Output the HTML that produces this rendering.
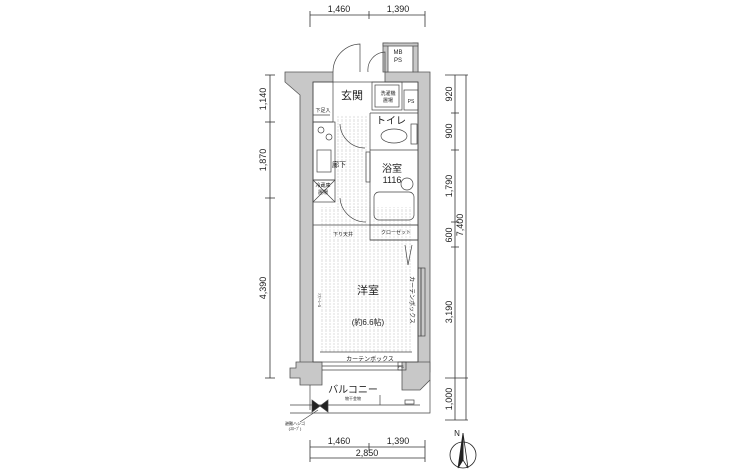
<!DOCTYPE html>
<html><head><meta charset="utf-8"><style>
html,body{margin:0;padding:0;background:#fff;}
svg{display:block;font-family:"Liberation Sans","Noto Sans CJK JP",sans-serif;}
</style></head><body>
<svg width="730" height="470" viewBox="0 0 730 470" xmlns="http://www.w3.org/2000/svg">
<defs>
<pattern id="hatch" width="4" height="10" patternUnits="userSpaceOnUse">
<line x1="2" y1="0" x2="2" y2="10" stroke="#bbb" stroke-width="0.5" stroke-dasharray="2,1"/>
</pattern>
</defs>
<rect x="320" y="207" width="92" height="145" fill="url(#hatch)"/>
<rect x="336" y="115" width="33" height="95" fill="url(#hatch)"/>
<g stroke="#333" stroke-width="0.8" fill="none">
<line x1="310" y1="15" x2="425" y2="15"/>
<line x1="310" y1="11" x2="310" y2="27"/><line x1="369" y1="11" x2="369" y2="19"/><line x1="425" y1="11" x2="425" y2="27"/>
<line x1="310" y1="447" x2="425" y2="447"/><line x1="310" y1="458" x2="425" y2="458"/>
<line x1="310" y1="440" x2="310" y2="462"/><line x1="369" y1="443" x2="369" y2="451"/><line x1="425" y1="440" x2="425" y2="462"/>
<line x1="270" y1="75" x2="270" y2="378"/>
<line x1="265" y1="75" x2="275" y2="75"/><line x1="265" y1="122" x2="275" y2="122"/><line x1="265" y1="198" x2="275" y2="198"/><line x1="265" y1="378" x2="275" y2="378"/>
<line x1="455" y1="75" x2="455" y2="420"/><line x1="466" y1="75" x2="466" y2="420"/>
<line x1="445" y1="75" x2="468" y2="75"/><line x1="451" y1="113" x2="459" y2="113"/><line x1="451" y1="150" x2="459" y2="150"/>
<line x1="451" y1="222" x2="459" y2="222"/><line x1="451" y1="247" x2="459" y2="247"/><line x1="445" y1="378" x2="468" y2="378"/><line x1="445" y1="420" x2="468" y2="420"/>
</g>
<g fill="#c8c8c8" stroke="#555" stroke-width="0.8">
<path d="M285 72 H333 V82 H313 V370 H300 V95 L285 82 Z"/>
<path d="M385 72 H413 V43 H418 V72 H430 V82 L430 82 L430 372 H418 V82 H385 Z"/>
<rect x="413" y="43" width="5" height="29"/>
<rect x="383" y="43" width="5" height="29"/>
<rect x="383" y="43" width="35" height="3"/>
<path d="M296 362 H322 V385 H300 V378 H290 V368 H296 Z"/>
<path d="M402 362 H430 V380 L420 390 H402 Z"/>
</g>
<g stroke="#444" stroke-width="0.7" fill="none">
<path d="M333 72 A28 28 0 0 1 360 44 V72"/>
<path d="M368 72 A18 18 0 0 1 385 52 V72"/>
<rect x="313" y="82" width="105" height="280"/>
<line x1="313" y1="115" x2="330" y2="115"/>
<line x1="313" y1="122" x2="333" y2="122"/>
<line x1="333" y1="82" x2="333" y2="122"/>
<rect x="372" y="82" width="30" height="28"/>
<rect x="375" y="85" width="24" height="22"/>
<rect x="404" y="90" width="14" height="20"/>
<line x1="370" y1="113" x2="418" y2="113"/>
<line x1="370" y1="113" x2="370" y2="225"/>
<line x1="370" y1="150" x2="418" y2="150"/>
<ellipse cx="394" cy="136" rx="13" ry="7"/>
<rect x="411" y="124" width="6" height="20"/>
<path d="M340 124 A25 25 0 0 0 365 148"/>
<rect x="366" y="152" width="4" height="30"/>
<circle cx="407" cy="184" r="6"/>
<rect x="374" y="192" width="40" height="28" rx="5"/>
<rect x="313" y="122" width="22" height="58"/>
<circle cx="321" cy="130" r="3"/><circle cx="329" cy="137" r="3"/>
<rect x="317" y="150" width="14" height="22"/>
<rect x="313" y="180" width="22" height="22"/>
<line x1="313" y1="180" x2="335" y2="202"/><line x1="335" y1="180" x2="313" y2="202"/>
<path d="M340 198 A26 26 0 0 0 366 222"/>
<line x1="313" y1="225" x2="418" y2="225"/>
<rect x="370" y="225" width="48" height="15"/>
<line x1="370" y1="240" x2="418" y2="240"/>
<line x1="405" y1="245" x2="408" y2="265"/><line x1="412" y1="245" x2="408" y2="265"/>
<rect x="418" y="268" width="3" height="68"/>
<rect x="421" y="268" width="4" height="68"/>
<line x1="320" y1="352" x2="412" y2="352"/>
<line x1="322" y1="366" x2="402" y2="366"/>
<line x1="322" y1="370" x2="402" y2="370"/>
<rect x="398" y="362" width="8" height="8"/>
<line x1="290" y1="405" x2="420" y2="405"/>
<line x1="310" y1="385" x2="310" y2="410"/>
<line x1="380" y1="395" x2="380" y2="405"/>
<path d="M430 380 V413 H290"/>
<rect x="405" y="400" width="9" height="4"/>
<path d="M312 400 L328 412 V400 L312 412 Z" fill="#222"/>
<line x1="300" y1="422" x2="318" y2="410"/>
</g>
<g stroke="#222" fill="none" stroke-width="0.8">
<circle cx="463" cy="455" r="13"/>
<path d="M463 433 L458 468 L463 460 Z" fill="#222"/>
<path d="M463 433 L468 468 L463 460 Z"/>
</g>
<g fill="#222" font-size="9" text-anchor="middle">
<text x="339" y="12">1,460</text><text x="398" y="12">1,390</text>
<text x="339" y="444">1,460</text><text x="398" y="444">1,390</text>
<text x="367" y="456">2,850</text>
<text x="457" y="436" font-size="8">N</text>
<text transform="translate(266,99) rotate(-90)">1,140</text>
<text transform="translate(266,160) rotate(-90)">1,870</text>
<text transform="translate(266,288) rotate(-90)">4,390</text>
<text transform="translate(452,94) rotate(-90)">920</text>
<text transform="translate(452,131) rotate(-90)">900</text>
<text transform="translate(452,186) rotate(-90)">1,790</text>
<text transform="translate(452,235) rotate(-90)">600</text>
<text transform="translate(452,312) rotate(-90)">3,190</text>
<text transform="translate(452,399) rotate(-90)">1,000</text>
<text transform="translate(463,225) rotate(-90)">7,400</text>
<text x="352" y="99" font-size="11">玄関</text>
<text x="391" y="124" font-size="10">トイレ</text>
<text x="339" y="167" font-size="7">廊下</text>
<text x="392" y="172" font-size="10">浴室</text>
<text x="392" y="183" font-size="9">1116</text>
<text x="368" y="294" font-size="11">洋室</text>
<text x="368" y="325" font-size="8">(約6.6帖)</text>
<text x="370" y="361" font-size="6">カーテンボックス</text>
<text x="353" y="393" font-size="10">バルコニー</text>
<text x="353" y="400" font-size="4">物干金物</text>
<text x="343" y="236" font-size="5">下り天井</text>
<text x="396" y="234" font-size="5">クローゼット</text>
<text x="323" y="112" font-size="5">下足入</text>
<text x="323" y="187" font-size="5">冷蔵庫</text>
<text x="323" y="194" font-size="5">置場</text>
<text x="388" y="95" font-size="5">洗濯機</text>
<text x="388" y="102" font-size="5">置場</text>
<text x="411" y="103" font-size="5">PS</text>
<text x="398" y="54" font-size="6">MB</text>
<text x="398" y="62" font-size="6">PS</text>
<text x="401" y="368" font-size="4">PS</text>
<text x="295" y="425" font-size="4">避難ハシゴ</text>
<text x="295" y="430" font-size="4">(ｽﾛｰﾌﾟ)</text>
<text transform="translate(410,300) rotate(90)" font-size="6">カーテンボックス</text>
<text transform="translate(318,300) rotate(90)" font-size="4">ｿﾌｧｰﾚｰﾙ</text>
</g>
</svg>
</body></html>
